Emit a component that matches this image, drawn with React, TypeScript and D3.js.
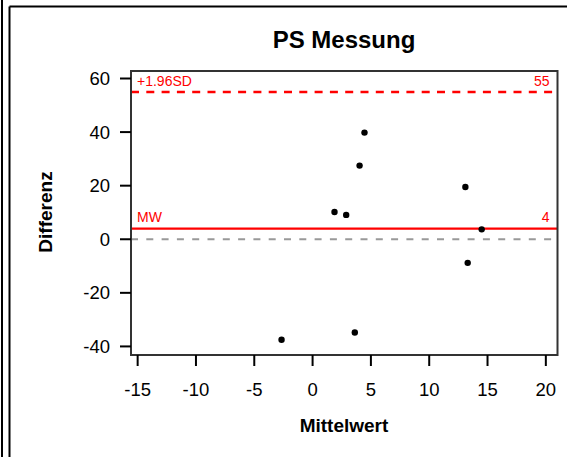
import React from "react";
import * as d3 from "d3";

const meanValues = [-2.66, 3.62, 4.45, 4.03, 13.1, 1.88, 2.88, 14.5, 13.3];
const diffValues = [-37.5, -34.8, 39.8, 27.5, 19.5, 10.2, 9.1, 3.7, -8.8];
const xTicks = [-15, -10, -5, 0, 5, 10, 15, 20];
const yTicks = [-40, -20, 0, 20, 40, 60];
const meanDiff = 4;
const upperLoA = 55;
const title = "PS Messung";
const xLabel = "Mittelwert";
const yLabel = "Differenz";

const W = 567;
const H = 457;
const plot = { left: 131, right: 557.5, top: 71, bottom: 355 };
const FONT = "'Liberation Sans', Arial, sans-serif";
const RED = "#ff0000";

export default function App() {
  const x = d3.scaleLinear().domain([-15.57, 21.0]).range([plot.left, plot.right]);
  const y = d3.scaleLinear().domain([-43.2, 62.8]).range([plot.bottom, plot.top]);
  const pts = meanValues.map((m, i) => ({ m, d: diffValues[i] }));
  return (
    <svg
      width={W}
      height={H}
      style={{ position: "absolute", left: 0, top: 0, background: "#fff" }}
      fontFamily={FONT}
    >
      <rect x={0} y={0} width={W} height={H} fill="#fff" />
      {/* outer frame */}
      <line x1={2} y1={0} x2={2} y2={H} stroke="#000" strokeWidth={2} />
      <line x1={9.5} y1={6.5} x2={9.5} y2={H} stroke="#000" strokeWidth={2} />
      <line x1={9.5} y1={6.5} x2={W} y2={6.5} stroke="#000" strokeWidth={2} />

      <text x={344} y={48} textAnchor="middle" fontSize={24} fontWeight="bold" fill="#000">
        {title}
      </text>

      {/* zero line */}
      <line
        x1={plot.left}
        x2={plot.right}
        y1={y(0)}
        y2={y(0)}
        stroke="#999"
        strokeWidth={2}
        strokeDasharray="7,8.3"
      />
      {/* upper limit */}
      <line
        x1={plot.left}
        x2={plot.right}
        y1={y(upperLoA)}
        y2={y(upperLoA)}
        stroke={RED}
        strokeWidth={2.5}
        strokeDasharray="8,7.3"
      />
      <text x={137} y={86} fontSize={14} fill={RED}>+1.96SD</text>
      <text x={549.5} y={86} fontSize={14} fill={RED} textAnchor="end">
        {upperLoA}
      </text>
      {/* mean line */}
      <line
        x1={plot.left}
        x2={plot.right}
        y1={y(meanDiff)}
        y2={y(meanDiff)}
        stroke={RED}
        strokeWidth={2.2}
      />
      <text x={137} y={222} fontSize={14} fill={RED}>MW</text>
      <text x={549.5} y={222} fontSize={14} fill={RED} textAnchor="end">
        {meanDiff}
      </text>

      {pts.map((p, i) => (
        <circle key={i} cx={x(p.m)} cy={y(p.d)} r={3.2} fill="#000" />
      ))}

      <rect
        x={plot.left}
        y={plot.top}
        width={plot.right - plot.left}
        height={plot.bottom - plot.top}
        fill="none"
        stroke="#333"
        strokeWidth={2}
      />

      {yTicks.map((t) => (
        <g key={"y" + t}>
          <line x1={plot.left - 11} x2={plot.left} y1={y(t)} y2={y(t)} stroke="#000" strokeWidth={2} />
          <text x={110} y={y(t) + 6.5} fontSize={18.5} textAnchor="end" fill="#000">
            {t}
          </text>
        </g>
      ))}
      {xTicks.map((t) => (
        <g key={"x" + t}>
          <line x1={x(t)} x2={x(t)} y1={plot.bottom} y2={plot.bottom + 11} stroke="#000" strokeWidth={2} />
          <text x={x(t)} y={396} fontSize={18.5} textAnchor="middle" fill="#000">
            {t}
          </text>
        </g>
      ))}

      <text x={344} y={432} textAnchor="middle" fontSize={19} fontWeight="bold" fill="#000">
        {xLabel}
      </text>
      <text
        transform={`translate(52,212) rotate(-90)`}
        textAnchor="middle"
        fontSize={19}
        fontWeight="bold"
        fill="#000"
      >
        {yLabel}
      </text>
    </svg>
  );
}
